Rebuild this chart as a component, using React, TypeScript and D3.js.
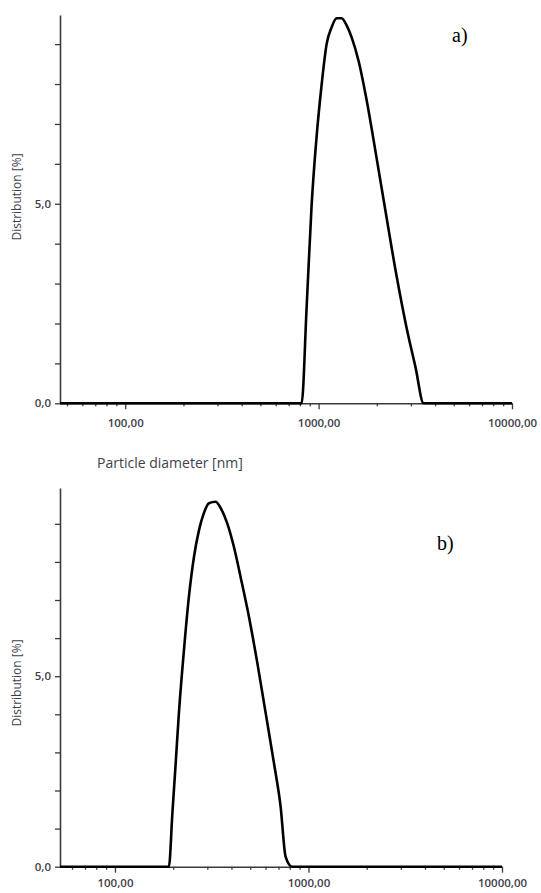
import React, { useEffect, useRef } from 'react';
import * as d3 from 'd3';

// panel a) particle size distribution
const diameterA = [46, 817, 867, 920, 977, 1036, 1100, 1167, 1239, 1315, 1396, 1482, 1611, 1771, 1994, 2245, 2528, 2848, 3171, 3490, 10000];
const distributionA = [0, 0, 2.4, 4.96, 6.7, 7.97, 9.0, 9.42, 9.65, 9.65, 9.47, 9.17, 8.57, 7.6, 6.15, 4.66, 3.2, 1.9, 0.9, 0, 0];

// panel b)
const diameterB = [52, 190, 198, 206, 214, 228, 241, 256, 272, 288, 306, 331, 352, 380, 412, 446, 493, 544, 601, 663, 718, 762, 824, 10000];
const distributionB = [0, 0, 1.4, 2.72, 4.03, 5.77, 7.08, 8.13, 8.84, 9.28, 9.54, 9.58, 9.41, 9.02, 8.39, 7.6, 6.55, 5.35, 4.03, 2.72, 1.57, 0.26, 0, 0];

const majorX = [100, 1000, 10000];
const majorXLabels = ['100,00', '1000,00', '10000,00'];
const minorX = [50, 60, 70, 80, 90, 200, 300, 400, 500, 600, 700, 800, 900, 2000, 3000, 4000, 5000, 6000, 7000, 8000, 9000];
const yTicks = [0, 1, 2, 3, 4, 5, 6, 7, 8, 9];
const yLabels: Record<number, string> = { 0: '0,0', 5: '5,0' };

const axisColor = '#3a3a3a';
const labelColor = '#3f3f4c';
const font = '"Open Sans", sans-serif';

type Panel = {
  diam: number[];
  dist: number[];
  xDomain: [number, number];
  xRange: [number, number];
  yMax: number;
  yRange: [number, number];
  labelY: number;
  tag: string;
  tagX: number;
  tagY: number;
  yTitleCenter: number;
  xTitle: boolean;
};

const panels: Panel[] = [
  { diam: diameterA, dist: distributionA, xDomain: [46, 10000], xRange: [60, 512], yMax: 9.73, yRange: [403.3, 15],
    labelY: 16, tag: 'a)', tagX: 452, tagY: 42, yTitleCenter: 197, xTitle: true },
  { diam: diameterB, dist: distributionB, xDomain: [52, 10000], xRange: [60, 502], yMax: 9.94, yRange: [866.7, 488],
    labelY: 12.5, tag: 'b)', tagX: 437, tagY: 550, yTitleCenter: 683, xTitle: false },
];

const App = () => {
  const ref = useRef<SVGSVGElement>(null);

  useEffect(() => {
    const svg = d3.select(ref.current);
    svg.selectAll('*').remove();

    panels.forEach(p => {
      const x = d3.scaleLog().domain(p.xDomain).range(p.xRange);
      const y = d3.scaleLinear().domain([0, p.yMax]).range(p.yRange);
      const y0 = y(0);
      const g = svg.append('g');

      // minor x ticks
      g.append('g')
        .attr('transform', `translate(0,${y0})`)
        .call(d3.axisBottom(x).tickValues(minorX.filter(v => v >= p.xDomain[0])).tickSize(3).tickFormat(() => ''))
        .call(a => a.select('.domain').remove())
        .call(a => a.selectAll('line').attr('stroke', axisColor).attr('stroke-width', 1.3));

      // major x ticks + labels
      g.append('g')
        .attr('transform', `translate(0,${y0})`)
        .call(d3.axisBottom(x).tickValues(majorX).tickSize(6).tickSizeOuter(0)
          .tickFormat((d, i) => majorXLabels[i]))
        .call(a => a.select('.domain').attr('stroke', axisColor).attr('stroke-width', 1.6))
        .call(a => a.selectAll('line').attr('stroke', axisColor).attr('stroke-width', 1.3))
        .call(a => a.selectAll('text')
          .attr('y', p.labelY)
          .attr('fill', labelColor)
          .style('font-family', font)
          .style('font-size', '11.5px')
          .style('font-weight', 600));

      // y axis
      g.append('g')
        .attr('transform', `translate(${p.xRange[0]},0)`)
        .call(d3.axisLeft(y).tickValues(yTicks).tickSize(5).tickSizeOuter(0)
          .tickFormat(d => yLabels[+d] ?? ''))
        .call(a => a.select('.domain').attr('stroke', axisColor).attr('stroke-width', 1.6))
        .call(a => a.selectAll('line').attr('stroke', axisColor).attr('stroke-width', 1.3))
        .call(a => a.selectAll('text')
          .attr('x', -9)
          .attr('fill', labelColor)
          .style('font-family', font)
          .style('font-size', '11.5px')
          .style('font-weight', 600));

      // y title
      g.append('text')
        .attr('transform', `translate(21,${p.yTitleCenter}) rotate(-90)`)
        .attr('text-anchor', 'middle')
        .attr('fill', labelColor)
        .style('font-family', font)
        .style('font-size', '12px')
        .text('Distribution [%]');

      // x title
      if (p.xTitle) {
        g.append('text')
          .attr('x', 97)
          .attr('y', 468)
          .attr('fill', labelColor)
          .style('font-family', font)
          .style('font-size', '14px')
          .text('Particle diameter [nm]');
      }

      // curve
      const pts = p.diam.map((d, i) => [d, p.dist[i]] as [number, number]);
      g.append('path')
        .datum(pts)
        .attr('fill', 'none')
        .attr('stroke', '#000')
        .attr('stroke-width', 2.6)
        .attr('stroke-linejoin', 'round')
        .attr('d', d3.line<[number, number]>()
          .x(d => x(d[0]))
          .y(d => y(d[1]))
          .curve(d3.curveMonotoneX));

      // panel tag
      g.append('text')
        .attr('x', p.tagX)
        .attr('y', p.tagY)
        .attr('fill', '#000')
        .style('font-family', '"Liberation Serif", serif')
        .style('font-size', '20px')
        .text(p.tag);
    });
  }, []);

  return (
    <svg ref={ref} width={541} height={893}
      style={{ position: 'absolute', left: 0, top: 0, background: '#fff' }} />
  );
};

export default App;
